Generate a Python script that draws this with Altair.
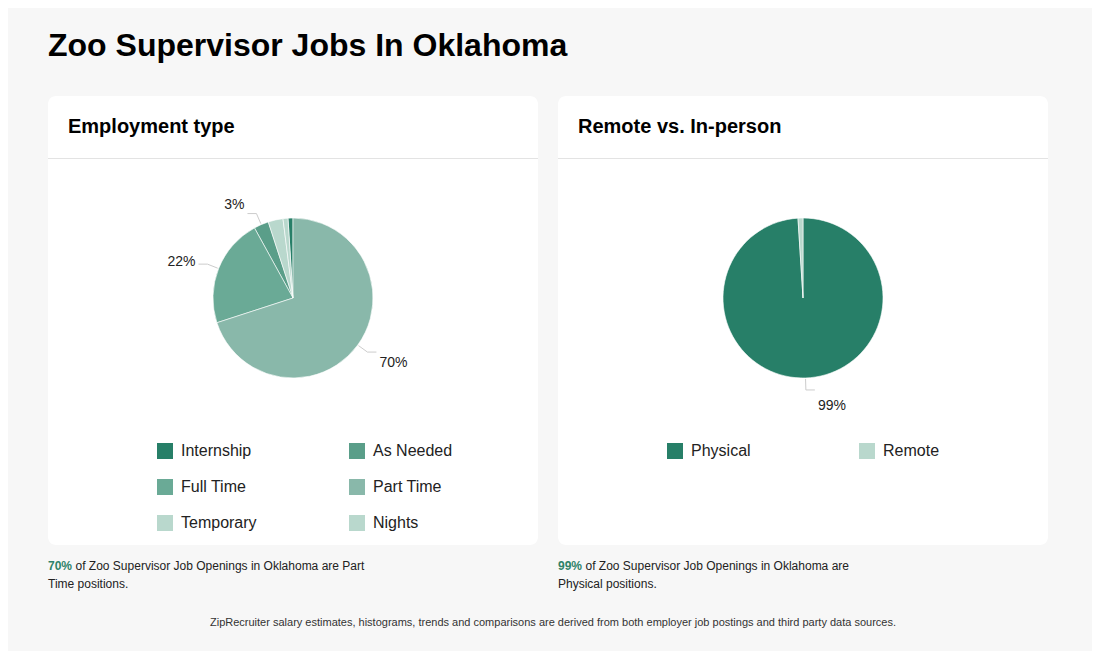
import altair as alt
import pandas as pd

# ---------------- data ----------------
emp_types = ["Internship", "As Needed", "Full Time", "Part Time", "Temporary", "Nights"]
emp_values = [1, 3, 22, 70, 3, 1]
emp_order = [6, 3, 2, 1, 4, 5]          # clockwise drawing order from 12 o'clock
emp_labels = ["", "3%", "22%", "70%", "", ""]
emp_colors = ["#277f68", "#5a9e89", "#6aaa96", "#89b8aa", "#b9d8cd", "#b9d8cd"]
# legend is laid out column by column, so list it in that order
emp_legend_order = ["Internship", "Full Time", "Temporary", "As Needed", "Part Time", "Nights"]

loc_types = ["Physical", "Remote"]
loc_values = [99, 1]
loc_order = [1, 2]
loc_labels = ["99%", ""]
loc_colors = ["#277f68", "#b9d8cd"]
loc_legend_order = ["Physical", "Remote"]

title_text = "Zoo Supervisor Jobs In Oklahoma"
card_titles = ["Employment type", "Remote vs. In-person"]
footer_note = ("ZipRecruiter salary estimates, histograms, trends and comparisons are derived "
               "from both employer job postings and third party data sources.")

emp_df = pd.DataFrame({"cat": emp_types, "value": emp_values, "ord": emp_order, "label": emp_labels})
loc_df = pd.DataFrame({"cat": loc_types, "value": loc_values, "ord": loc_order, "label": loc_labels})

FONT = "Liberation Sans"
one = pd.DataFrame({"k": [0]})
R = 80


def pie_layers(df, cx, cy, types, colors, legend_order, lx, colpad):
    cmap = dict(zip(types, colors))
    arcs = alt.Chart(df).mark_arc(radius=R, stroke="#ffffff", strokeWidth=0.6).encode(
        theta=alt.Theta("value:Q", stack=True),
        order=alt.Order("ord:Q"),
        color=alt.Color(
            "cat:N",
            scale=alt.Scale(domain=legend_order, range=[cmap[c] for c in legend_order]),
            legend=alt.Legend(
                orient="none", legendX=lx, legendY=435, columns=2,
                columnPadding=colpad, rowPadding=20, title=None, padding=0,
                symbolType="square", symbolSize=256, symbolStrokeWidth=0,
                symbolOpacity=1, labelFontSize=16, labelFont=FONT,
                labelColor="#222222", labelOffset=8,
            ),
        ),
        x=alt.value(cx),
        y=alt.value(cy),
    )
    base = (
        alt.Chart(df)
        .transform_joinaggregate(total="sum(value)")
        .transform_window(cum="sum(value)", sort=[alt.SortField("ord")], frame=[None, 0])
        .transform_calculate(mid="2*PI*(datum.cum - datum.value/2)/datum.total")
        .transform_filter("datum.label != ''")
        .transform_calculate(
            sx=f"{cx} + {R + 1}*sin(datum.mid)",
            sy=f"{cy} - {R + 1}*cos(datum.mid)",
            ex=f"{cx} + {R + 12}*sin(datum.mid)",
            ey=f"{cy} - {R + 12}*cos(datum.mid)",
            side="sin(datum.mid) >= 0 ? 1 : -1",
        )
        .transform_calculate(
            hx="datum.ex + datum.side*9",
            tx="datum.ex + datum.side*12",
            ty="datum.ey - 13*cos(datum.mid) + 3",
        )
    )
    radial = base.mark_rule(color="#cccccc", strokeWidth=1).encode(
        x=alt.X("sx:Q", scale=None, axis=None),
        y=alt.Y("sy:Q", scale=None, axis=None),
        x2="ex:Q",
        y2="ey:Q",
    )
    horiz = base.mark_rule(color="#cccccc", strokeWidth=1).encode(
        x=alt.X("ex:Q", scale=None, axis=None),
        y=alt.Y("ey:Q", scale=None, axis=None),
        x2="hx:Q",
    )
    txt_r = base.transform_filter("datum.side > 0").mark_text(
        align="left", baseline="middle", fontSize=14, font=FONT, color="#222222"
    ).encode(
        x=alt.X("tx:Q", scale=None, axis=None),
        y=alt.Y("ty:Q", scale=None, axis=None),
        text="label:N",
    )
    txt_l = base.transform_filter("datum.side < 0").mark_text(
        align="right", baseline="middle", fontSize=14, font=FONT, color="#222222"
    ).encode(
        x=alt.X("tx:Q", scale=None, axis=None),
        y=alt.Y("ty:Q", scale=None, axis=None),
        text="label:N",
    )
    return [arcs, radial, horiz, txt_r, txt_l]


def card(x0):
    rect = alt.Chart(one).mark_rect(fill="#ffffff", cornerRadius=8).encode(
        x=alt.value(x0), x2=alt.value(x0 + 490), y=alt.value(88), y2=alt.value(537)
    )
    rule = alt.Chart(one).mark_rule(color="#e3e3e3", strokeWidth=1).encode(
        x=alt.value(x0), x2=alt.value(x0 + 490), y=alt.value(150.5)
    )
    return [rect, rule]


def text_at(s, x, y, size, weight="normal", color="#222222", align="left"):
    return alt.Chart(one).mark_text(
        text=s, fontSize=size, fontWeight=weight, font=FONT, color=color,
        align=align, baseline="alphabetic",
    ).encode(x=alt.value(x), y=alt.value(y))


GREEN = "#2e8369"
layers = []
layers += card(40) + card(550)
layers.append(text_at(title_text, 40, 48, 32, "bold", "#000000"))
layers.append(text_at(card_titles[0], 60, 125, 20, "bold", "#000000"))
layers.append(text_at(card_titles[1], 570, 125, 20, "bold", "#000000"))

layers += pie_layers(emp_df, 285, 290, emp_types, emp_colors, emp_legend_order, 149, 92)
layers += pie_layers(loc_df, 795, 290, loc_types, loc_colors, loc_legend_order, 659, 108)

# footers
layers.append(text_at(f"{emp_values[3]}%", 40, 562, 12, "bold", GREEN))
layers.append(text_at(f"of Zoo Supervisor Job Openings in Oklahoma are {emp_types[3].split()[0]}", 67.5, 562, 12))
layers.append(text_at(f"{emp_types[3].split()[1]} positions.", 40, 580, 12))
layers.append(text_at(f"{loc_values[0]}%", 550, 562, 12, "bold", GREEN))
layers.append(text_at("of Zoo Supervisor Job Openings in Oklahoma are", 577.5, 562, 12))
layers.append(text_at(f"{loc_types[0]} positions.", 550, 580, 12))
layers.append(text_at(footer_note, 545, 618, 11, "normal", "#333333", "center"))

chart = (
    alt.layer(*layers)
    .resolve_scale(color="independent", theta="independent")
    .properties(width=1084, height=643, padding=0, autosize=alt.AutoSizeParams(type="none"),
                background="#f7f7f7")
    .configure_view(stroke=None)
)

chart.save("out.html", embed_options={"renderer": "svg", "actions": False})
